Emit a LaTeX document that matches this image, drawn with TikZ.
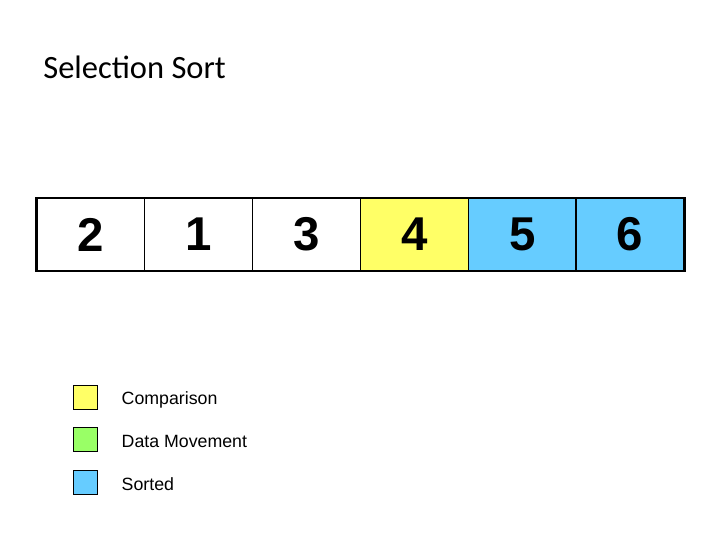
\documentclass[tikz,border=0pt]{standalone}
\usepackage{fontspec}
\setmainfont{Liberation Sans}
\newfontfamily\titlefont{Carlito}
\usetikzlibrary{positioning}
\definecolor{cmpyellow}{HTML}{FFFF66}
\definecolor{movegreen}{HTML}{99FF66}
\definecolor{sortblue}{HTML}{66CCFF}
\tikzstyle{cell} = [rectangle, minimum width=2.157cm, minimum height=1.46cm, inner sep=0pt, outer sep=0pt, draw=black, line width=0.8pt, text centered, font=\fontsize{27}{30}\selectfont\bfseries]
\tikzstyle{key} = [rectangle, minimum size=0.48cm, inner sep=0pt, draw=black, line width=0.4pt]
\tikzstyle{keylabel} = [anchor=west, inner sep=0pt, yshift=-0.05cm, font=\fontsize{10.1}{12}\selectfont]

\begin{document}
\begin{tikzpicture}[node distance=0cm]
\useasboundingbox (0,0) rectangle (14.4,-10.8);
\node (title) [anchor=west, inner sep=0pt, font=\titlefont\fontsize{18.5}{22}\selectfont] at (0.86,-1.34) {Selection Sort};

  \node (c1) [cell] at (1.817,-4.69) {2};
  \node (c2) [cell, right=of c1] {1};
  \node (c3) [cell, right=of c2] {3};
  \node (c4) [cell, right=of c3, fill=cmpyellow] {4};
  \node (c5) [cell, right=of c4, fill=sortblue] {5};
  \node (c6) [cell, right=of c5, fill=sortblue] {6};
  \draw [line width=1.7pt] (c1.north west) rectangle (c6.south east);

  \node (kcmp) [key, fill=cmpyellow] at (1.7,-7.94) {};
  \node (kmove) [key, fill=movegreen] at (1.7,-8.78) {};
  \node (ksort) [key, fill=sortblue] at (1.7,-9.64) {};
  \node (lcmp) [keylabel, right=0.48cm of kcmp] {Comparison};
  \node (lmove) [keylabel, right=0.48cm of kmove] {Data Movement};
  \node (lsort) [keylabel, right=0.48cm of ksort] {Sorted};
\end{tikzpicture}
\end{document}
